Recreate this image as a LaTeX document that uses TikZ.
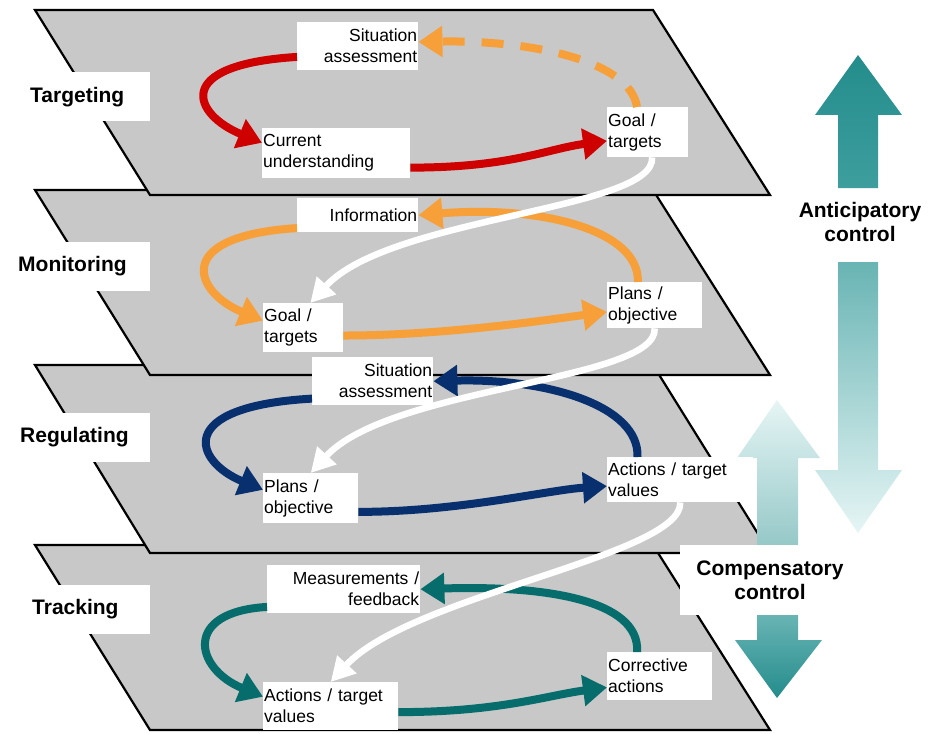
\documentclass[tikz,border=0pt]{standalone}
\usepackage{fontspec}
\setmainfont{Liberation Sans}
\usepackage{tikz}
\usetikzlibrary{arrows.meta}
\definecolor{planegray}{RGB}{200,200,200}
\definecolor{lred}{RGB}{206,0,0}
\definecolor{lorange}{RGB}{247,160,58}
\definecolor{lnavy}{RGB}{8,48,110}
\definecolor{lteal}{RGB}{6,108,108}
\definecolor{arrdark}{RGB}{36,140,140}
\definecolor{arrmid}{RGB}{62,158,158}
\definecolor{arrsoft}{RGB}{105,180,180}
\definecolor{arrlight}{RGB}{150,200,200}
\definecolor{arrpale}{RGB}{230,245,245}

\begin{document}
\begin{tikzpicture}[x=1pt, y=-1pt,
            pl/.style={fill=planegray, draw=black, line width=2.2pt},
            lvl/.style={fill=white, anchor=west, inner xsep=5pt, minimum height=49pt, font=\bfseries\fontsize{21}{24}\selectfont},
            lab/.style={fill=white, anchor=north west, inner xsep=1pt, inner ysep=0pt, minimum height=48pt, font=\fontsize{17.5}{21}\selectfont},
            ctl/.style={fill=white, align=center, font=\bfseries\fontsize{21}{24}\selectfont},
            lp/.style={line width=8pt, -{Triangle[length=24pt, width=30pt]}},
            link/.style={draw=white, line width=6.5pt, -{Triangle[length=24pt, width=25pt]}}]
            \useasboundingbox (0,0) rectangle (936,733);

            \draw[pl] (35,545) -- (653,545) -- (770,730) -- (150,730) -- cycle;
            \draw[pl] (35,365) -- (653,365) -- (770,553) -- (150,553) -- cycle;
            \draw[pl] (35,190) -- (653,190) -- (770,375) -- (150,375) -- cycle;
            \draw[pl] (35,10) -- (653,10) -- (770,195) -- (150,195) -- cycle;

            \shade[top color=arrdark, bottom color=arrmid] (838,188) -- (838,115) -- (815,115) -- (858,55) -- (902,115) -- (878,115) -- (878,188) -- cycle;
            \shade[top color=arrsoft, bottom color=arrpale] (838,262) -- (878,262) -- (878,470) -- (902,470) -- (858,533) -- (815,470) -- (838,470) -- cycle;
            \shade[top color=arrpale, bottom color=arrlight] (757,545) -- (757,458) -- (737,458) -- (777,400) -- (820,458) -- (798,458) -- (798,545) -- cycle;
            \shade[top color=arrsoft, bottom color=arrdark] (757,615) -- (798,615) -- (798,640) -- (822,640) -- (777,698) -- (735,640) -- (757,640) -- cycle;

            \node[lvl, text width=115pt] (targeting) at (25,97) {Targeting};
            \node[lvl, text width=127pt] (monitoring) at (13,266) {Monitoring};
            \node[lvl, text width=125pt] (regulating) at (15,437) {Regulating};
            \node[lvl, text width=113pt] (tracking) at (27,609) {Tracking};

            \node[lab, text width=119pt, align=right] (sa1) at (297,22) {Situation\\assessment};
            \node[lab, text width=146pt, align=left, minimum height=50pt] (cu1) at (262,128) {Current\\understanding};
            \node[lab, text width=79pt, align=left, minimum height=50pt] (gt1) at (607,107) {Goal /\\targets};

            \node[lab, text width=119pt, align=right, minimum height=34pt] (in2) at (297,198) {Information};
            \node[lab, text width=78pt, align=left, minimum height=49pt] (gt2) at (263,303) {Goal /\\targets};
            \node[lab, text width=93pt, align=left, minimum height=46pt] (po2) at (607,282) {Plans /\\objective};

            \node[lab, text width=119pt, align=right] (sa3) at (312,357) {Situation\\assessment};
            \node[lab, text width=93pt, align=left, minimum height=50pt] (po3) at (263,473) {Plans /\\objective};
            \node[lab, text width=144pt, align=left, minimum height=45pt] (at3) at (607,457) {Actions / target\\values};

            \node[lab, text width=151pt, align=right] (mf4) at (267,565) {Measurements /\\feedback};
            \node[lab, text width=133pt, align=left] (at4) at (263,682) {Actions / target\\values};
            \node[lab, text width=103pt, align=left] (ca4) at (607,652) {Corrective\\actions};

            \node[ctl] (antic) at (860,222) {Anticipatory\\control};
            \node[ctl, minimum width=180pt, minimum height=70pt] (comp) at (770,580) {Compensatory\\control};

            \draw[lp, lred] (sa1.190) .. controls +(-127,8) and +(-68,-28) .. (cu1.172);
            \draw[lp, lred] (cu1.-11) .. controls +(100,0) and +(-60,8) .. (gt1.192);
            \draw[lp, lorange, dash pattern=on 22pt off 17pt] (gt1.113) .. controls +(-7,-47) and +(110,-2) .. (sa1.4);

            \draw[lp, lorange] (in2.192) .. controls +(-127,8) and +(-68,-28) .. (gt2.170);
            \draw[lp, lorange] (gt2.-11) .. controls +(100,0) and +(-60,8) .. (po2.188);
            \draw[lp, lorange] (po2.126) .. controls +(2,-52) and +(122,-10) .. (in2.east);

            \draw[lp, lnavy] (sa3.196) .. controls +(-140,8) and +(-68,-28) .. (po3.170);
            \draw[lp, lnavy] (po3.-16) .. controls +(100,0) and +(-60,4) .. (at3.185);
            \draw[lp, lnavy] (at3.152) .. controls +(2,-52) and +(112,-3) .. (sa3.east);

            \draw[lp, lteal] (mf4.193) .. controls +(-85,5) and +(-68,-28) .. (at4.172);
            \draw[lp, lteal] (at4.-5) .. controls +(100,0) and +(-60,8) .. (ca4.192);
            \draw[lp, lteal] (ca4.133) .. controls +(3,-52) and +(125,-4) .. (mf4.east);

            \draw[link] (gt1.-80) .. controls +(3,53) and +(80,-87) .. (gt2.74);
            \draw[link] (po2.south) .. controls +(3,53) and +(80,-87) .. (po3.north);
            \draw[link] (at3.south) .. controls +(3,53) and +(80,-87) .. (at4.north);
        \end{tikzpicture}
\end{document}
